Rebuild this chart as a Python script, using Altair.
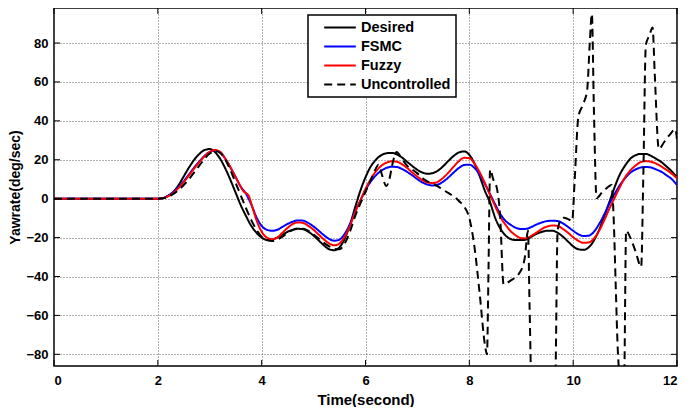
import altair as alt
import pandas as pd

# ---------------- data ----------------
names = ["Desired", "FSMC", "Fuzzy", "Uncontrolled"]

t_des = [0, 2.0, 2.1, 2.2, 2.3, 2.4, 2.5, 2.6, 2.7, 2.8, 2.9, 3.0, 3.1, 3.2, 3.3, 3.4, 3.5, 3.6, 3.7, 3.8, 3.9,
         4.0, 4.1, 4.2, 4.3, 4.4, 4.5, 4.6, 4.7, 4.8, 4.9, 5.0, 5.1, 5.2, 5.3, 5.4, 5.5, 5.6, 5.7, 5.8, 5.9,
         6.0, 6.1, 6.2, 6.3, 6.4, 6.5, 6.6, 6.7, 6.8, 6.9, 7.0, 7.1, 7.2, 7.3, 7.4, 7.5, 7.6, 7.7, 7.8, 7.9,
         8.0, 8.1, 8.2, 8.3, 8.4, 8.5, 8.6, 8.7, 8.8, 8.9, 9.0, 9.1, 9.2, 9.3, 9.4, 9.5, 9.6, 9.7, 9.8, 9.9,
         10.0, 10.1, 10.2, 10.3, 10.4, 10.5, 10.6, 10.7, 10.8, 10.9, 11.0, 11.1, 11.2, 11.3, 11.4, 11.5, 11.6,
         11.7, 11.8, 11.9, 12.0]
v_des = [0, 0, 0.3, 1.5, 3.5, 7, 11.5, 16, 20, 23, 25, 25.5, 24, 20.5, 15.5, 9.5, 3, -3.5, -9, -14, -17.5,
         -20, -21.2, -21, -20, -18.5, -17, -16, -15.5, -15.7, -17, -19, -21.5, -24, -26, -26.5, -25, -20.5, -13.5, -4.5, 4,
         11, 16.5, 20, 22.3, 23.3, 23.5, 22.8, 21.2, 19, 16.8, 14.8, 13.4, 12.8, 13.2, 14.5, 16.8, 19.5, 22, 23.8, 24.3,
         22.5, 18, 11.5, 4, -2, -10, -15.5, -19, -20.8, -21.3, -21.3, -21, -19.5, -18, -17, -16.5, -16.5, -17.5, -19.5, -22,
         -24.5, -26, -26.3, -25, -21.5, -16, -9, -1.5, 6, 12.5, 17, 20.5, 22.3, 23, 23, 22, 20.5,
         18.8, 16.5, 14, 11]

t_fsmc = t_des
v_fsmc = [0, 0, 0.3, 1.5, 3.5, 6, 9, 12.5, 16, 19.2, 22, 24, 24.8, 24, 20.5, 16, 11, 6, 2.5, -3, -9.5,
          -14, -16, -16.5, -16, -14.5, -13, -11.8, -11.2, -11.3, -12.5, -14.3, -16.5, -18.8, -20.7, -21.6, -21, -18, -13, -6.5, -1,
          4.5, 8.8, 12, 14.3, 15.8, 16.4, 16.3, 15.3, 13.8, 12, 10, 8.3, 7.2, 6.8, 7.3, 8.8, 11, 13.5, 15.8, 17.3,
          17.5, 15.8, 12.3, 7.5, 2.3, -3, -8, -11.5, -13.5, -15, -15.6, -15.5, -14.5, -13.2, -12.2, -11.5, -11.3, -11.5, -12.7, -14.5,
          -16.5, -18.3, -19.2, -19, -17, -13, -8, -2.5, 2.5, 7, 10.5, 13.3, 15, 16, 16.3, 16, 15,
          13.8, 12, 10, 7]

t_fuzzy = [0, 2.0, 2.1, 2.2, 2.3, 2.4, 2.5, 2.6, 2.7, 2.8, 2.9, 3.0, 3.1, 3.2, 3.3, 3.4, 3.5, 3.6, 3.65, 3.7, 3.75, 3.8, 3.9,
           4.0, 4.1, 4.2, 4.3, 4.4, 4.5, 4.6, 4.7, 4.8, 4.9, 5.0, 5.1, 5.2, 5.3, 5.4, 5.5, 5.6, 5.7, 5.8, 5.9,
           6.0, 6.1, 6.2, 6.3, 6.4, 6.5, 6.6, 6.7, 6.8, 6.9, 7.0, 7.1, 7.2, 7.3, 7.4, 7.5, 7.6, 7.7, 7.8, 7.9,
           8.0, 8.1, 8.2, 8.3, 8.4, 8.5, 8.6, 8.7, 8.8, 8.9, 9.0, 9.1, 9.2, 9.3, 9.4, 9.5, 9.6, 9.7, 9.8, 9.9,
           10.0, 10.1, 10.2, 10.3, 10.4, 10.5, 10.6, 10.7, 10.8, 10.9, 11.0, 11.1, 11.2, 11.3, 11.4, 11.5, 11.6,
           11.7, 11.8, 11.9, 12.0]
v_fuzzy = [0, 0, 0.3, 1.3, 3, 5.5, 8.5, 12, 15.5, 18.8, 21.8, 24, 25, 24, 20.5, 16, 11, 6, 3.8, 2.8, 1.5, -2.5, -11,
           -17, -20, -20.8, -20, -17.5, -15, -13, -12.2, -12.5, -14, -16, -18.5, -21, -23, -24, -23, -19.5, -14, -7, -1,
           5, 10, 14, 16.8, 18.5, 19.2, 19, 17.8, 15.8, 13.5, 11.3, 9.5, 8.3, 8, 8.8, 10.8, 13.5, 16.5, 19.3, 21,
           20.8, 18, 13.5, 8, 2, -4, -9.5, -13.5, -16.8, -19, -20.3, -20.3, -19, -17.3, -15.5, -14.3, -13.8, -14, -15.5, -17.5,
           -19.8, -21.7, -22.7, -22.5, -20.5, -16.5, -11, -5, 0.5, 6, 11, 14.5, 17, 18.8, 19.3, 19, 18,
           16.5, 14.8, 12.8, 10.5]

t_unc = [0, 2.0, 2.1, 2.2, 2.3, 2.4, 2.5, 2.6, 2.7, 2.8, 2.9, 3.0, 3.1, 3.2, 3.3, 3.4, 3.5, 3.6, 3.7, 3.8, 3.9,
         4.0, 4.1, 4.2, 4.3, 4.4, 4.5, 4.6, 4.7, 4.8, 4.9, 5.0, 5.1, 5.2, 5.3, 5.4, 5.5, 5.6, 5.7, 5.8, 5.9,
         6.0, 6.1, 6.2, 6.25, 6.32, 6.4, 6.46, 6.52, 6.6, 6.7, 6.8, 6.9, 7.0, 7.1, 7.2, 7.3, 7.4, 7.5, 7.6, 7.7,
         7.8, 7.9, 8.0, 8.1, 8.2, 8.3, 8.34, 8.37, 8.40, 8.46, 8.53, 8.59, 8.66, 8.8, 8.97, 9.07, 9.13, 9.16, 9.2,
         9.4, 9.6, 9.66, 9.70, 9.76, 9.82, 9.9, 9.98, 10.03, 10.1, 10.2, 10.27, 10.32, 10.36, 10.4, 10.45, 10.55,
         10.65, 10.74, 10.78, 10.82, 10.86, 10.92, 10.98, 11.02, 11.1, 11.2, 11.31, 11.35, 11.4, 11.47, 11.53,
         11.57, 11.65, 11.75, 11.85, 11.97, 12.0]
v_unc = [0, 0, 0.2, 1, 2.5, 4.5, 7, 10, 13.5, 17, 20.5, 23.2, 24.5, 23.5, 20, 14.5, 8, 1.5, -5, -11, -16,
         -19.5, -21.3, -21.8, -21, -19.5, -17.5, -16, -15.3, -15.5, -16.5, -18.5, -20.5, -22.7, -24.5, -25.8, -26, -23, -17, -9, -2.5,
         3.5, 9.5, 15.5, 17.5, 12, 6.5, 10, 18, 24, 20.5, 17, 15, 13, 10.5, 8.8, 7.5, 6.2, 4.5, 2.8, 1.3,
         -1.2, -4, -10, -25, -49, -75, -80, -35, 15, 10, 5.4, -7.6, -44, -42, -38, -30, -16.5, -55, -100,
         -130, -120, -90, -16.5, -11, -9.8, -10.5, -11.5, 10, 42, 49, 56, 80, 95, 45, 0.3, 3,
         5.5, 7, -10, -45, -78, -95, -95, -16.5, -20, -27, -35, 10, 79, 84, 88,
         65, 25.5, 29, 32.5, 35.7, 30]

x_ticks = [0, 2, 4, 6, 8, 10, 12]
y_ticks = [-80, -60, -40, -20, 0, 20, 40, 60, 80]

colors = ["#000000", "#0000ff", "#ff0000", "#000000"]
dashes = [[1, 0], [1, 0], [1, 0], [8, 5]]

rows = []
for name, ts, vs in [("Desired", t_des, v_des), ("FSMC", t_fsmc, v_fsmc),
                     ("Fuzzy", t_fuzzy, v_fuzzy), ("Uncontrolled", t_unc, v_unc)]:
    for t, v in zip(ts, vs):
        rows.append({"t": t, "v": v, "series": name})
df = pd.DataFrame(rows)

W, H = 623, 358
LEFT = 46
FONT = "Liberation Sans"

xs = alt.Scale(domain=[0, 12], nice=False, zero=False)
ys = alt.Scale(domain=[-86, 98], nice=False, zero=False)
x_axis = alt.Axis(values=x_ticks, title="Time(second)", labelPadding=8, titlePadding=5)
y_axis = alt.Axis(values=y_ticks, title="Yawrate(deg/sec)", labelPadding=6, titlePadding=3,
                  titleFontSize=14)

legend = alt.Legend(title=None, orient="none", legendX=308 - 8 - LEFT, legendY=7, direction="vertical",
                    symbolType="stroke", symbolSize=1000, symbolStrokeWidth=2,
                    labelFont=FONT, labelFontSize=14.5, labelFontWeight="bold", labelColor="black",
                    labelExpr="datum.label + '\u00a0\u00a0'",
                    strokeColor="black", fillColor="white", padding=5, rowPadding=3,
                    clipHeight=15, symbolOffset=10, labelOffset=4)

layers = []
for name in names:
    layers.append(
        alt.Chart(df).transform_filter(alt.datum.series == name)
        .mark_line(clip=True, strokeWidth=2, interpolate="monotone")
        .encode(
            x=alt.X("t:Q", scale=xs, axis=x_axis),
            y=alt.Y("v:Q", scale=ys, axis=y_axis),
            color=alt.Color("series:N", scale=alt.Scale(domain=names, range=colors), legend=legend),
            strokeDash=alt.StrokeDash("series:N", scale=alt.Scale(domain=names, range=dashes), legend=legend),
        )
    )

ydf = pd.DataFrame({"v": y_ticks})
xdf = pd.DataFrame({"t": x_ticks})
tick_l = alt.Chart(ydf).mark_rule(color="black", strokeWidth=1).encode(
    y=alt.Y("v:Q", scale=ys, axis=y_axis), x=alt.value(0), x2=alt.value(6))
tick_r = alt.Chart(ydf).mark_rule(color="black", strokeWidth=1).encode(
    y=alt.Y("v:Q", scale=ys, axis=y_axis), x=alt.value(W - 6), x2=alt.value(W))
tick_b = alt.Chart(xdf).mark_rule(color="black", strokeWidth=1).encode(
    x=alt.X("t:Q", scale=xs, axis=x_axis), y=alt.value(H - 6), y2=alt.value(H))
tick_t = alt.Chart(xdf).mark_rule(color="black", strokeWidth=1).encode(
    x=alt.X("t:Q", scale=xs, axis=x_axis), y=alt.value(0), y2=alt.value(6))

chart = alt.layer(*layers, tick_l, tick_r, tick_b, tick_t).properties(
    width=W, height=H,
    padding={"left": LEFT, "top": 0, "right": 676 - LEFT - W, "bottom": 41},
    autosize=alt.AutoSizeParams(type="none"),
    background="white",
).configure_view(
    stroke="black", strokeWidth=1.5
).configure_axis(
    grid=True, gridDash=[1, 2], gridColor="#555555", gridWidth=1, gridOpacity=0.9,
    ticks=False, tickSize=0, domain=False,
    labelFont=FONT, labelFontSize=13, labelFontWeight="bold", labelColor="black",
    titleFont=FONT, titleFontSize=15, titleFontWeight="bold", titleColor="black",
).configure_legend(
    strokeWidth=1.5
)

chart.save("out.html", embed_options={"renderer": "svg", "actions": False})
